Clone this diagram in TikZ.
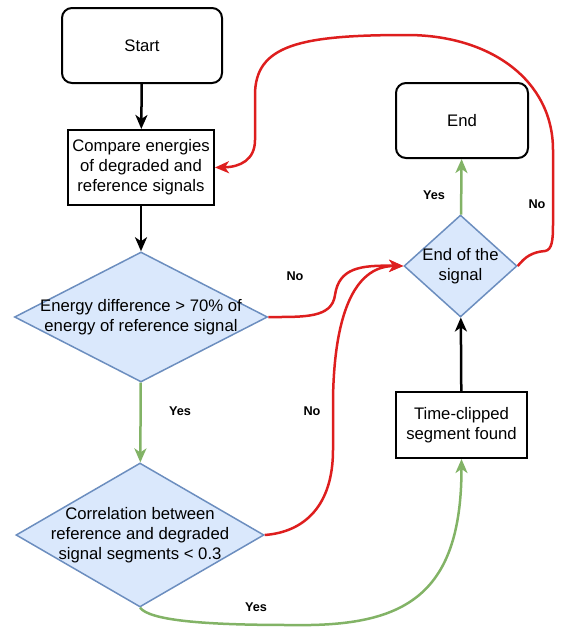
\documentclass[tikz,border=0pt]{standalone}
\usepackage{fontspec}
\setmainfont{Liberation Sans}
\usetikzlibrary{shapes.geometric,arrows.meta}
\definecolor{cred}{RGB}{222,30,30}
\definecolor{cgreen}{RGB}{130,179,102}
\definecolor{dfill}{RGB}{218,232,252}
\definecolor{dline}{RGB}{108,142,191}
\tikzset{
  box/.style={draw=black,line width=2pt,fill=white,inner sep=0pt,align=center,font=\fontsize{16.7}{20}\selectfont},
  rbox/.style={box,rounded corners=10pt},
  dia/.style={diamond,draw=dline,line width=1.5pt,fill=dfill,inner sep=0pt},
  diatext/.style={align=center,font=\fontsize{16.7}{20}\selectfont},
  conn/.style={line width=2.5pt,-{Stealth[length=14pt,width=12pt,inset=4pt]}},
  blk/.style={conn,draw=black},
  redc/.style={conn,draw=cred},
  grn/.style={conn,draw=cgreen},
  lab/.style={font=\fontsize{12.7}{15}\selectfont\bfseries,inner sep=0pt}
}
\begin{document}
\begin{tikzpicture}[x=1pt,y=-1pt]
\useasboundingbox (0,0) rectangle (560,629);
% nodes
\node[rbox,minimum width=160pt,minimum height=75pt] (start) at (142,45.5) {Start};
\node[box,minimum width=146pt,minimum height=75pt] (cmp) at (141,167.5) {Compare energies\\of degraded and\\reference signals};
\node[dia,minimum width=253pt,minimum height=130pt,
  label={[diatext]center:Energy difference > 70\% of\\energy of reference signal}] (d1) at (141,317) {};
\node[dia,minimum width=248pt,minimum height=144pt,
  label={[diatext]center:Correlation between\\reference and degraded\\signal segments < 0.3}] (d2) at (140,535) {};
\node[rbox,minimum width=132pt,minimum height=75pt] (end) at (462,120.5) {End};
\node[dia,minimum width=113pt,minimum height=102pt,
  label={[diatext]center:End of the\\signal}] (ed) at (460.5,266) {};
\node[box,minimum width=131pt,minimum height=66pt] (tc) at (461.5,425) {Time-clipped\\segment found};
% connectors
\draw[blk] (start) -- (cmp);
\draw[blk] (cmp) -- (d1);
\draw[grn] (d1) -- (d2);
\draw[blk] (tc) -- (ed);
\draw[grn] (ed) -- (end);
\draw[redc] (d1.east) .. controls (305,317) and (332,318) .. (335,295)
  .. controls (339,268) and (360,265) .. (ed.west);
\draw[redc] (d2.east) .. controls (305,532) and (333,505) .. (333,450)
  -- (333,400) .. controls (334,320) and (352,266) .. (ed.west);
\draw[redc] (ed.east) .. controls (525,257) and (532,252) .. (545,251)
  .. controls (552,250) and (553,240) .. (553,225) -- (553,150)
  .. controls (553,80) and (490,35) .. (407,35)
  .. controls (300,35) and (255,45) .. (255,95) -- (255,140)
  .. controls (255,160) and (240,167) .. (cmp.east);
\draw[grn] (d2.south) .. controls (150,620) and (200,625) .. (290,625)
  .. controls (400,627) and (461.5,600) .. (tc.south);
% labels
\node[lab] (l1) at (295,276) {No};
\node[lab] (l2) at (434,195) {Yes};
\node[lab] (l3) at (537,204) {No};
\node[lab] (l4) at (180,411) {Yes};
\node[lab] (l5) at (312,411) {No};
\node[lab] (l6) at (256,607) {Yes};
\end{tikzpicture}
\end{document}
